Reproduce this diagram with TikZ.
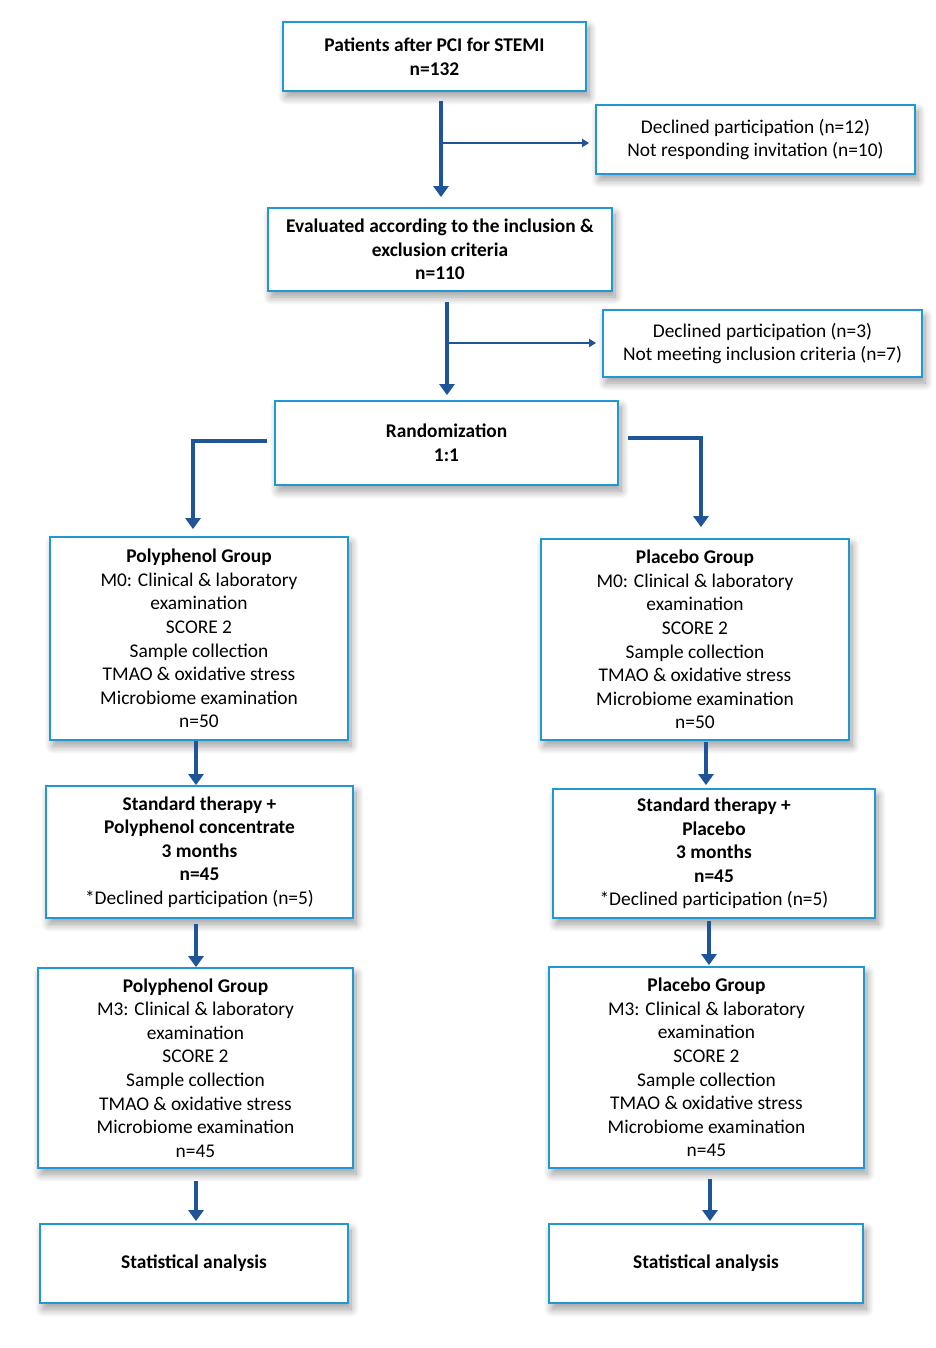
\documentclass[tikz,border=0pt]{standalone}
\usepackage{fontspec}
\setmainfont{Carlito}
\usetikzlibrary{arrows.meta,calc,shadows.blur}
\definecolor{boxblue}{RGB}{32,152,214}
\definecolor{arrblue}{RGB}{31,84,152}
\tikzset{
  box/.style={draw=boxblue, line width=1.8pt, fill=white, align=center, inner sep=0pt,
    font=\fontsize{19.4}{23.6}\selectfont,
    blur shadow={shadow xshift=3pt, shadow yshift=-6pt, shadow opacity=40, shadow blur radius=8pt, shadow blur steps=12}},
  trunk/.style={draw=arrblue, line width=4.6pt, -{Triangle[width=15pt,length=11pt]}},
  branch/.style={draw=arrblue, line width=2.6pt, -{Triangle[width=8pt,length=7pt]}},
}
\begin{document}
\begin{tikzpicture}[x=1pt,y=-1pt]
\useasboundingbox (0,0) rectangle (935,1348);
\node[box, minimum width=303pt, minimum height=69pt] (b1) at (434.5,56.5) {\textbf{Patients after PCI for STEMI}\\\textbf{n=132}};
\node[box, minimum width=319pt, minimum height=69pt] (b2) at (755.5,139.5) {Declined participation (n=12)\\Not responding invitation (n=10)};
\node[box, minimum width=344pt, minimum height=83pt] (b3) at (440,249.5) {\textbf{Evaluated according to the inclusion \&}\\\textbf{exclusion criteria}\\\textbf{n=110}};
\node[box, minimum width=319pt, minimum height=67pt] (b4) at (762.5,343.5) {Declined participation (n=3)\\Not meeting inclusion criteria (n=7)};
\node[box, minimum width=343pt, minimum height=84pt] (b5) at (446.5,443) {\textbf{Randomization}\\\textbf{1:1}};
\node[box, minimum width=298pt, minimum height=203pt] (b6) at (199,638.5) {\textbf{Polyphenol Group}\\M0: Clinical \& laboratory\\examination\\SCORE 2\\Sample collection\\TMAO \& oxidative stress\\Microbiome examination\\n=50};
\node[box, minimum width=308pt, minimum height=201pt] (b7) at (695,639.5) {\textbf{Placebo Group}\\M0: Clinical \& laboratory\\examination\\SCORE 2\\Sample collection\\TMAO \& oxidative stress\\Microbiome examination\\n=50};
\node[box, minimum width=307pt, minimum height=132pt] (b8) at (199.5,852) {\textbf{Standard therapy +}\\\textbf{Polyphenol concentrate}\\\textbf{3 months}\\\textbf{n=45}\\*Declined participation (n=5)};
\node[box, minimum width=322pt, minimum height=129pt] (b9) at (714,853.5) {\textbf{Standard therapy +}\\\textbf{Placebo}\\\textbf{3 months}\\\textbf{n=45}\\*Declined participation (n=5)};
\node[box, minimum width=315pt, minimum height=200pt] (b10) at (195.5,1068) {\textbf{Polyphenol Group}\\M3: Clinical \& laboratory\\examination\\SCORE 2\\Sample collection\\TMAO \& oxidative stress\\Microbiome examination\\n=45};
\node[box, minimum width=315pt, minimum height=201pt] (b11) at (706.5,1067.5) {\textbf{Placebo Group}\\M3: Clinical \& laboratory\\examination\\SCORE 2\\Sample collection\\TMAO \& oxidative stress\\Microbiome examination\\n=45};
\node[box, minimum width=308pt, minimum height=79pt] (b12) at (194,1263.5) {\textbf{Statistical analysis}};
\node[box, minimum width=314pt, minimum height=79pt] (b13) at (706,1263.5) {\textbf{Statistical analysis}};
% trunk 1 with branch
\coordinate (t1) at ([xshift=6.5pt,yshift=-9pt]b1.south);
\coordinate (t1e) at ([xshift=1pt,yshift=10pt]b3.north);
\coordinate (b2w) at ([xshift=-6pt,yshift=-3.5pt]b2.west);
\draw[trunk] (t1) -- (t1 |- t1e);
\draw[branch] (t1 |- b2w) -- (b2w);
% trunk 2 with branch
\coordinate (t2) at ([xshift=7pt,yshift=-10pt]b3.south);
\coordinate (t2e) at ([xshift=0.5pt,yshift=5pt]b5.north);
\coordinate (b4w) at ([xshift=-6pt,yshift=0.5pt]b4.west);
\draw[trunk] (t2) -- (t2 |- t2e);
\draw[branch] (t2 |- b4w) -- (b4w);
% randomization split
\coordinate (rl) at ([xshift=-7pt,yshift=2pt]b5.west);
\coordinate (rle) at ([xshift=-6pt,yshift=7pt]b6.north);
\draw[trunk] (rl) -- (rl -| rle) -- (rle);
\coordinate (rr) at ([xshift=9pt,yshift=5pt]b5.east);
\coordinate (rre) at ([xshift=6pt,yshift=11pt]b7.north);
\draw[trunk] (rr) -- (rr -| rre) -- (rre);
% left column
\coordinate (l1) at ([xshift=-3pt]b6.south);
\draw[trunk] (l1) -- (l1 |- b8.north);
\coordinate (l2) at ([xshift=-3.5pt,yshift=-5pt]b8.south);
\draw[trunk] (l2) -- (l2 |- b10.north);
\coordinate (l3) at ([xshift=0.5pt,yshift=-12pt]b10.south);
\coordinate (l3e) at ([yshift=2pt]b12.north);
\draw[trunk] (l3) -- (l3 |- l3e);
% right column
\coordinate (r1) at ([xshift=11pt,yshift=-1pt]b7.south);
\coordinate (r1e) at ([yshift=3pt]b9.north);
\draw[trunk] (r1) -- (r1 |- r1e);
\coordinate (r2) at ([xshift=-5pt,yshift=-2pt]b9.south);
\coordinate (r2e) at ([yshift=1pt]b11.north);
\draw[trunk] (r2) -- (r2 |- r2e);
\coordinate (r3) at ([xshift=3.5pt,yshift=-10pt]b11.south);
\coordinate (r3e) at ([yshift=2pt]b13.north);
\draw[trunk] (r3) -- (r3 |- r3e);
\end{tikzpicture}
\end{document}
